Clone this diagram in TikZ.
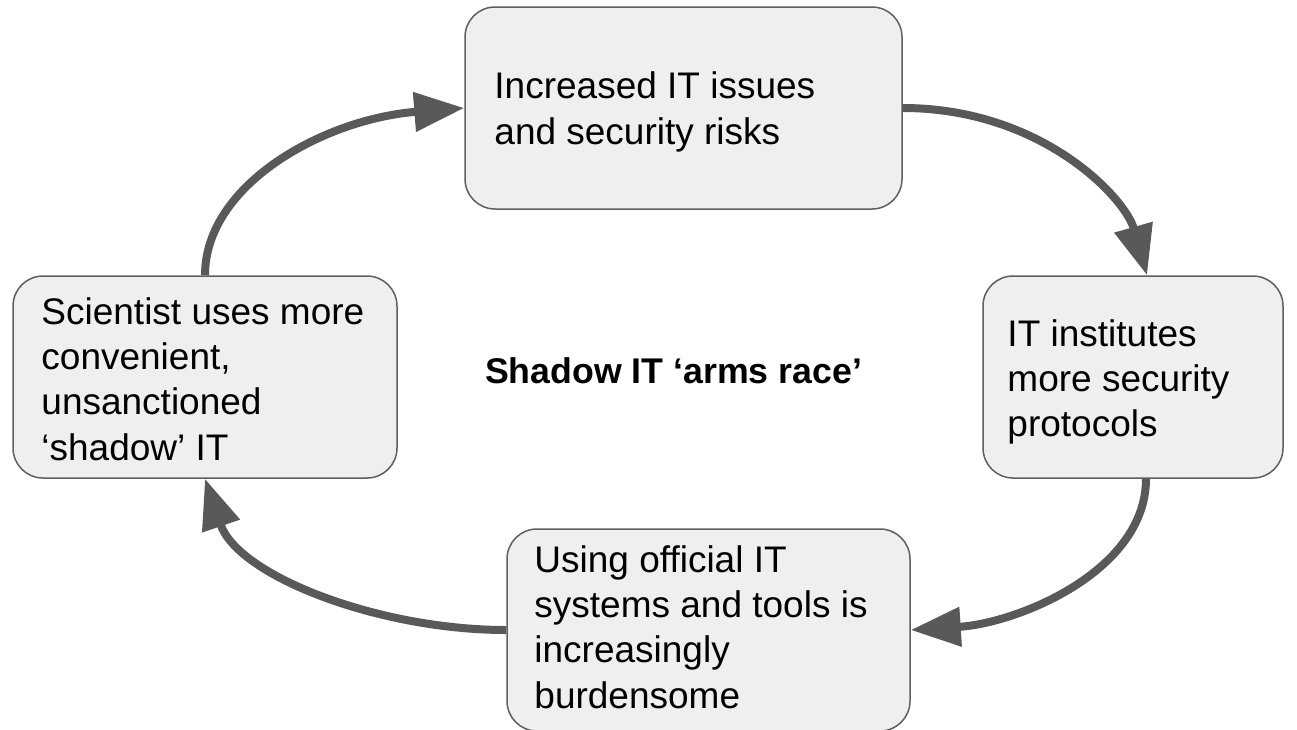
\documentclass[tikz,border=0pt]{standalone}
\usepackage{fontspec}
\setmainfont{Liberation Sans}
\usetikzlibrary{arrows.meta,calc}
\definecolor{boxfill}{HTML}{EFEFEF}
\definecolor{boxline}{HTML}{5F5F5F}
\definecolor{arrowgray}{HTML}{595959}

\begin{document}
\begin{tikzpicture}[x=1pt,y=-1pt,
  box/.style={draw=boxline, line width=1.5pt, fill=boxfill,
    rounded corners=30pt, inner sep=0pt},
  boxtext/.style={anchor=west, inner sep=0pt, align=left,
    font=\fontsize{37}{45.3}\selectfont},
  cycle/.style={draw=arrowgray, line width=8pt,
    -{Triangle[length=50pt,width=38pt]}}]

\useasboundingbox (0,0) rectangle (1297,729);

% the four stages of the cycle
\node[box, minimum width=437pt, minimum height=202pt] (issues)    at (683.5,108) {};
\node[box, minimum width=300pt, minimum height=202pt] (protocols) at (1133,377)  {};
\node[box, minimum width=403pt, minimum height=202pt] (burden)    at (708.5,630) {};
\node[box, minimum width=384pt, minimum height=202pt] (scientist) at (205,377)   {};

\node[boxtext] (issues-text) at ($(issues.west)+(30,4)$)
  {Increased IT issues\\and security risks};
\node[boxtext] (protocols-text) at ($(protocols.west)+(25,5)$)
  {IT institutes\\more security\\protocols};
\node[boxtext] (burden-text) at ($(burden.west)+(28,-3)$)
  {Using official IT\\systems and tools is\\increasingly\\burdensome};
\node[boxtext] (scientist-text) at ($(scientist.west)+(29,2)$)
  {Scientist uses more\\convenient,\\unsanctioned\\‘shadow’ IT};

% caption in the middle of the loop
\node[anchor=base, inner sep=0pt, font=\fontsize{35.7}{40}\selectfont\bfseries]
  (title) at (673.5,383) {Shadow IT ‘arms race’};

% curved connectors closing the loop
\draw[cycle] (scientist.north) .. controls +(0,-91) and +(-140,11) .. (issues.west);
\draw[cycle] (issues.east) .. controls +(138,0) and +(-22,-78) .. ($(protocols.north)+(14,0)$);
\draw[cycle] ($(protocols.south)+(13,0)$) .. controls +(0,92) and +(108,-7) .. (burden.east);
\draw[cycle] (burden.west) .. controls +(-128,0) and +(33,97) .. (scientist.south);
\end{tikzpicture}
\end{document}
